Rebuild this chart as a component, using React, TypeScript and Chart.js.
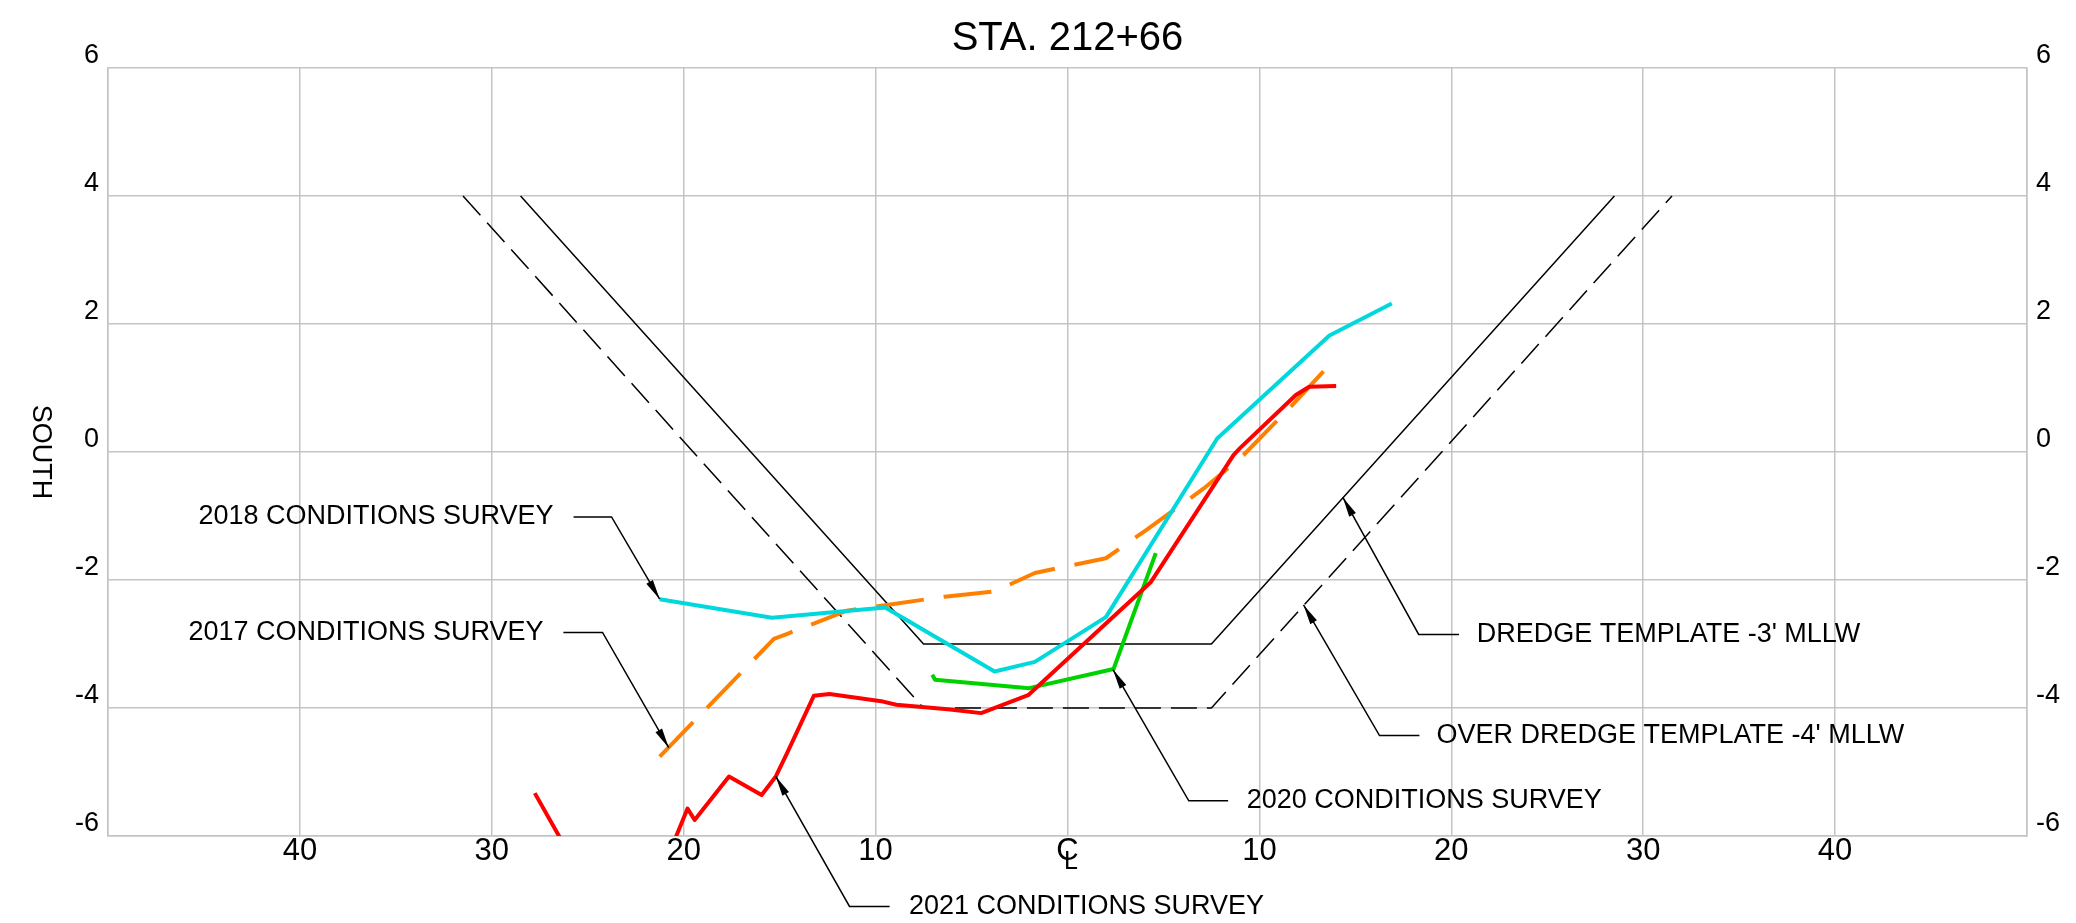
import React, { useEffect, useRef } from 'react';
import { Chart, registerables } from 'chart.js';

Chart.register(...registerables);

const FONT = "'Liberation Sans', Arial, Helvetica, sans-serif";

// ---- Tick labels ----
const xTickLabels = ['', '40', '30', '20', '10', 'C', '10', '20', '30', '40', ''];
const yTickLabels = ['-6', '-4', '-2', '0', '2', '4', '6'];

// ---- Survey data (offset ft, elevation ft) ----
const survey2017X = [-21.25, -15.3, -14.6, -11.5, -6.4, -3.8, -1.7, 2.0, 4.1, 7.1, 9.1, 11.7, 13.65];
const survey2017Y = [-4.76, -2.92, -2.84, -2.48, -2.26, -2.18, -1.89, -1.66, -1.22, -0.57, -0.07, 0.73, 1.36];

const survey2018X = [-21.25, -15.4, -9.5, -3.8, -1.7, 2.0, 7.8, 13.65, 16.9];
const survey2018Y = [-2.3, -2.59, -2.43, -3.43, -3.28, -2.58, 0.21, 1.82, 2.32];

const survey2020X = [-7.05, -6.9, -2.0, 2.4, 4.6];
const survey2020Y = [-3.48, -3.56, -3.69, -3.39, -1.58];

const survey2021X = [-27.76, -25.5, -21.0, -19.8, -19.43, -17.64, -15.94, -15.2, -14.62, -13.22, -12.4, -9.61, -8.92, -6.24, -4.5, -2.05, 4.35, 8.65, 8.99, 11.9, 12.6, 14.0];
const survey2021Y = [-5.33, -6.53, -6.45, -5.57, -5.75, -5.07, -5.36, -5.07, -4.71, -3.81, -3.78, -3.9, -3.95, -4.02, -4.08, -3.8, -2.03, -0.05, 0.06, 0.89, 1.02, 1.03];

// ---- Templates ----
const dredgeX = [-28.5, -7.5, 7.5, 28.5];
const dredgeY = [4, -3, -3, 4];
const overDredgeX = [-31.5, -7.5, 7.5, 31.5];
const overDredgeY = [4, -4, -4, 4];

// ---- Callout labels (text anchor + leader path in data units, tip last) ----
const callouts = [
  { text: '2018 CONDITIONS SURVEY', at: [-26.78, -1.015], align: 'right', path: [[-25.74, -1.015], [-23.76, -1.015], [-21.25, -2.3]] },
  { text: '2017 CONDITIONS SURVEY', at: [-27.3, -2.82], align: 'right', path: [[-26.27, -2.82], [-24.23, -2.82], [-20.78, -4.62]] },
  { text: '2021 CONDITIONS SURVEY', at: [-8.26, -7.1], align: 'left', path: [[-9.27, -7.1], [-11.36, -7.1], [-15.2, -5.07]] },
  { text: '2020 CONDITIONS SURVEY', at: [9.34, -5.45], align: 'left', path: [[8.37, -5.45], [6.32, -5.45], [2.37, -3.4]] },
  { text: "DREDGE TEMPLATE -3' MLLW", at: [21.32, -2.85], align: 'left', path: [[20.4, -2.85], [18.3, -2.85], [14.35, -0.71]] },
  { text: "OVER DREDGE TEMPLATE -4' MLLW", at: [19.23, -4.43], align: 'left', path: [[18.34, -4.43], [16.26, -4.43], [12.3, -2.39]] },
];

const yAxisTitle = 'SOUTH';
const chartTitle = 'STA. 212+66';

const pts = (xs: number[], ys: number[]) => xs.map((x, i) => ({ x, y: ys[i] }));

const calloutPlugin = {
  id: 'callouts',
  afterDraw(chart: any) {
    const { ctx, scales } = chart;
    const xs = scales.x;
    const ys = scales.y;
    ctx.save();
    ctx.strokeStyle = '#000';
    ctx.fillStyle = '#000';
    ctx.lineWidth = 1.5;
    ctx.font = `27px ${FONT}`;
    ctx.textBaseline = 'middle';
    for (const c of callouts) {
      const p = c.path.map(([x, y]) => [xs.getPixelForValue(x), ys.getPixelForValue(y)]);
      ctx.beginPath();
      ctx.moveTo(p[0][0], p[0][1]);
      for (let i = 1; i < p.length; i++) ctx.lineTo(p[i][0], p[i][1]);
      ctx.stroke();
      // arrowhead
      const [tx, ty] = p[p.length - 1];
      const [sx, sy] = p[p.length - 2];
      const ang = Math.atan2(ty - sy, tx - sx);
      const len = 20;
      const hw = 3.8;
      const bx = tx - len * Math.cos(ang);
      const by = ty - len * Math.sin(ang);
      ctx.beginPath();
      ctx.moveTo(tx, ty);
      ctx.lineTo(bx + hw * Math.sin(ang), by - hw * Math.cos(ang));
      ctx.lineTo(bx - hw * Math.sin(ang), by + hw * Math.cos(ang));
      ctx.closePath();
      ctx.fill();
      ctx.textAlign = c.align as CanvasTextAlign;
      ctx.fillText(c.text, xs.getPixelForValue(c.at[0]), ys.getPixelForValue(c.at[1]));
    }
    // centre-line "L" under the C tick label
    ctx.font = `25px ${FONT}`;
    ctx.textAlign = 'left';
    ctx.fillText('L', xs.getPixelForValue(0) - 3.5, xs.top + 26);
    // rotated axis title
    ctx.save();
    ctx.translate(40, ys.getPixelForValue(0));
    ctx.rotate(Math.PI / 2);
    ctx.font = `27px ${FONT}`;
    ctx.textAlign = 'center';
    ctx.fillText(yAxisTitle, 0, 0);
    ctx.restore();
    ctx.restore();
  },
};

export default function App() {
  const ref = useRef<HTMLCanvasElement>(null);
  useEffect(() => {
    const canvas = ref.current;
    if (!canvas) return;
    const gridColor = '#c4c4c4';
    const line = (label: string, data: any[], color: string, width: number, dash: number[] = []) => ({
      label,
      data,
      showLine: true,
      borderColor: color,
      backgroundColor: color,
      borderWidth: width,
      borderDash: dash,
      pointRadius: 0,
      pointHoverRadius: 0,
      fill: false,
      tension: 0,
      clip: 0,
      borderJoinStyle: 'round',
    });
    const yTicks = {
      stepSize: 2,
      color: '#000',
      padding: 9,
      labelOffset: -12,
      font: { size: 27, family: FONT },
      callback: (_v: any, i: number) => yTickLabels[i],
    };
    const chart = new Chart(canvas, {
      type: 'scatter',
      data: {
        datasets: [
          line('2021 CONDITIONS SURVEY', pts(survey2021X, survey2021Y), '#ff0000', 4),
          line('2020 CONDITIONS SURVEY', pts(survey2020X, survey2020Y), '#00d200', 4),
          line('2018 CONDITIONS SURVEY', pts(survey2018X, survey2018Y), '#00d8dc', 4),
          line('2017 CONDITIONS SURVEY', pts(survey2017X, survey2017Y), '#ff8000', 4, [48, 20]),
          line("DREDGE TEMPLATE -3' MLLW", pts(dredgeX, dredgeY), '#000000', 1.5),
          line("OVER DREDGE TEMPLATE -4' MLLW", pts(overDredgeX, overDredgeY), '#000000', 1.5, [26, 10]),
        ] as any,
      },
      options: {
        animation: false,
        responsive: true,
        maintainAspectRatio: false,
        events: [],
        layout: { padding: 0 },
        plugins: {
          legend: { display: false },
          tooltip: { enabled: false },
          title: {
            display: true,
            fullSize: false,
            text: chartTitle,
            color: '#000',
            font: { size: 40, family: FONT, weight: 'normal', lineHeight: 1.2 },
            padding: { top: 15, bottom: 5 },
          },
        },
        scales: {
          x: {
            type: 'linear',
            position: 'bottom',
            min: -50,
            max: 50,
            ticks: {
              stepSize: 10,
              autoSkip: false,
              maxRotation: 0,
              color: '#000',
              padding: 0,
              font: { size: 31, family: FONT, lineHeight: 1 },
              callback: (_v: any, i: number) => xTickLabels[i],
            },
            grid: { color: gridColor, lineWidth: 1.5, drawTicks: false },
            border: { color: gridColor, width: 1.5 },
            afterFit: (s: any) => {
              s.height = 87;
            },
          },
          y: {
            type: 'linear',
            position: 'left',
            min: -6,
            max: 6,
            ticks: yTicks,
            grid: { color: gridColor, lineWidth: 1.5, drawTicks: false },
            border: { color: gridColor, width: 1.5 },
            afterFit: (s: any) => {
              s.width = 108;
            },
          },
          y2: {
            type: 'linear',
            position: 'right',
            min: -6,
            max: 6,
            ticks: yTicks,
            grid: { display: false, drawTicks: false },
            border: { color: gridColor, width: 1.5 },
            afterFit: (s: any) => {
              s.width = 49;
            },
          },
        },
      } as any,
      plugins: [calloutPlugin],
    });
    return () => chart.destroy();
  }, []);
  return (
    <div style={{ position: 'fixed', left: 0, top: 0, width: '2076px', height: '923px', background: '#fff' }}>
      <canvas ref={ref} />
    </div>
  );
}
